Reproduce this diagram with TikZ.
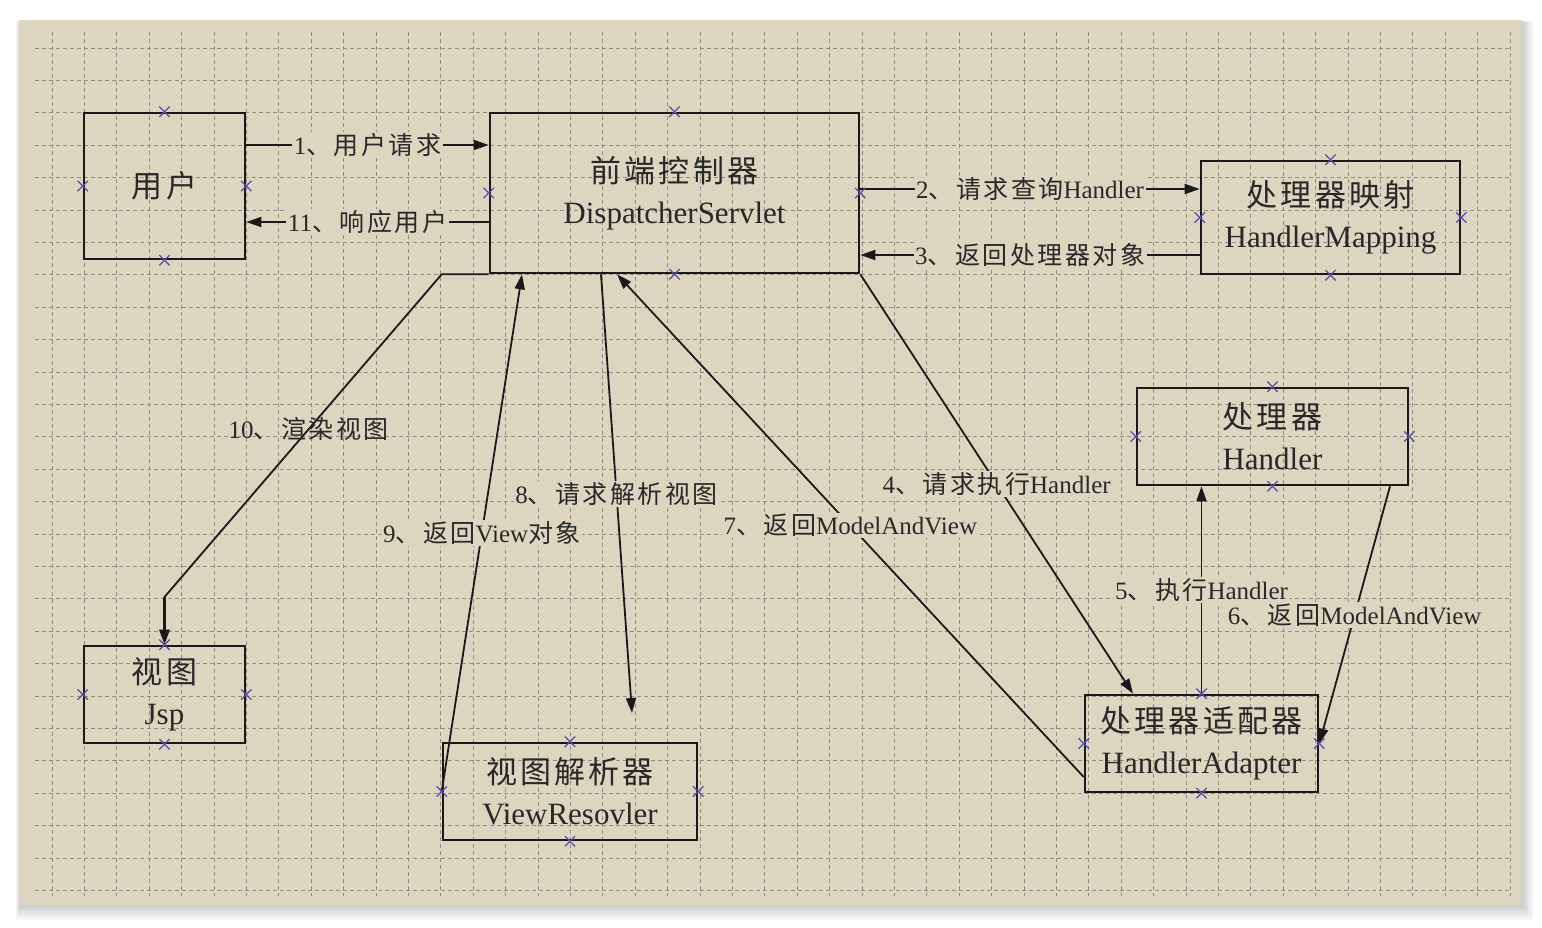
\documentclass[tikz,border=0pt]{standalone}
\usepackage{fontspec}
\setmainfont{Liberation Serif}
\newfontfamily\cjk{Noto Sans CJK SC}[LetterSpace=10]
\usetikzlibrary{shapes,arrows.meta,positioning,calc}
\definecolor{panelcolor}{RGB}{220,214,192}
\definecolor{gridcolor}{RGB}{146,143,130}
\definecolor{linecolor}{RGB}{25,25,25}
\definecolor{markcolor}{RGB}{88,76,170}
\definecolor{labelgray}{RGB}{40,40,40}
\newcommand{\zh}[1]{{\cjk #1}}

\begin{document}
\begin{tikzpicture}[x=1pt, y=-1pt,
                box/.style={rectangle, draw=linecolor, line width=2.6pt, align=center, text=labelgray, inner sep=0pt, font=\fontsize{31}{41}\selectfont},
                xmark/.style={cross out, draw=markcolor, line width=1.3pt, minimum size=9pt, inner sep=0pt},
                lbl/.style={fill=panelcolor, inner sep=1.5pt, text=labelgray, font=\fontsize{25}{30}\selectfont},
                gridline/.style={draw=gridcolor, line width=1pt, dash pattern=on 4pt off 3pt},
                link/.style={draw=linecolor, line width=1.8pt},
                arrow/.style={-{Triangle[length=15pt,width=10pt]}, draw=linecolor, line width=1.8pt}]

                % Page, shadow and panel
                \useasboundingbox (0,0) rectangle (1542,927);
                \fill[white] (0,0) rectangle (1542,927);
                \foreach \i in {1,...,10}
                    \fill[black, opacity=0.018] ({20-0.4*\i},{20+0.2*\i}) rectangle ({1522+1.2*\i},{905+1.5*\i});
                \fill[panelcolor] (20,20) rectangle (1522,905);

                % Grid
                \foreach \k in {0,...,45}
                    \draw[gridline] ({52+32.4*\k},32) -- ({52+32.4*\k},896);
                \foreach \k in {0,...,26}
                    \draw[gridline] (35,{48+32.4*\k}) -- (1512,{48+32.4*\k});

                % Boxes
                \node[box, minimum width=161pt, minimum height=146pt] (user) at (164.5,186) {\zh{用户}};
                \node[box, minimum width=369pt, minimum height=160pt] (dispatcher) at (674.5,193) {\zh{前端控制器}\\DispatcherServlet};
                \node[box, minimum width=259pt, minimum height=113pt] (mapping) at (1330.5,217.5) {\zh{处理器映射}\\HandlerMapping};
                \node[box, minimum width=271pt, minimum height=97pt] (handler) at (1272.5,436.5) {\zh{处理器}\\Handler};
                \node[box, minimum width=233pt, minimum height=97pt] (adapter) at (1201.5,743.5) {\zh{处理器适配器}\\HandlerAdapter};
                \node[box, minimum width=161pt, minimum height=97pt] (jsp) at (164.5,694.5) {\zh{视图}\\Jsp};
                \node[box, minimum width=254pt, minimum height=97pt] (resolver) at (570,791.5) {\zh{视图解析器}\\ViewResovler};

                % Request and response
                \draw[arrow] (user.east |- 0,145) -- node[lbl] {1\zh{、用户请求}} (dispatcher.west |- 0,145);
                \draw[arrow] (dispatcher.west |- 0,222) -- node[lbl] {11\zh{、响应用户}} (user.east |- 0,222);

                % Handler mapping
                \draw[arrow] (dispatcher.east |- 0,189) -- node[lbl] {2\zh{、请求查询}Handler} (mapping.west |- 0,189);
                \draw[arrow] (mapping.west |- 0,255) -- node[lbl] {3\zh{、返回处理器对象}} (dispatcher.east |- 0,255);

                % Handler adapter
                \draw[arrow] (dispatcher.south east) -- node[lbl] {4\zh{、请求执行}Handler} (adapter.north west -| 1133,0);
                \draw[arrow] (adapter.north) -- node[lbl] {5\zh{、执行}Handler} (adapter.north |- handler.south);
                \draw[arrow] (handler.south east -| 1390,0) -- node[lbl] {6\zh{、返回}ModelAndView} (adapter.east);
                \draw[arrow] (adapter.west |- 0,777) -- node[lbl] {7\zh{、返回}ModelAndView} (dispatcher.south -| 617,0);

                % View resolver
                \coordinate (resolve) at (632,713);
                \draw[arrow] (dispatcher.south -| 601,0) -- node[lbl] {8\zh{、请求解析视图}} (resolve);
                \draw[arrow] (resolver.west) -- node[lbl] {9\zh{、返回}View\zh{对象}} (dispatcher.south -| 522,0);

                % Render view
                \draw[link] (dispatcher.south west) -- ++(-47,0) -- node[pos=0.48, text=labelgray, font=\fontsize{25}{30}\selectfont] {10\zh{、渲染视图}} (jsp.north |- 0,597) coordinate (render);
                \draw[arrow, line width=3pt] (render) -- (jsp.north);

                % Connection points
                \foreach \n in {user,dispatcher,mapping,handler,adapter,jsp,resolver}
                    \foreach \a in {north,south,east,west}
                        \node[xmark] at (\n.\a) {};

            \end{tikzpicture}
\end{document}
